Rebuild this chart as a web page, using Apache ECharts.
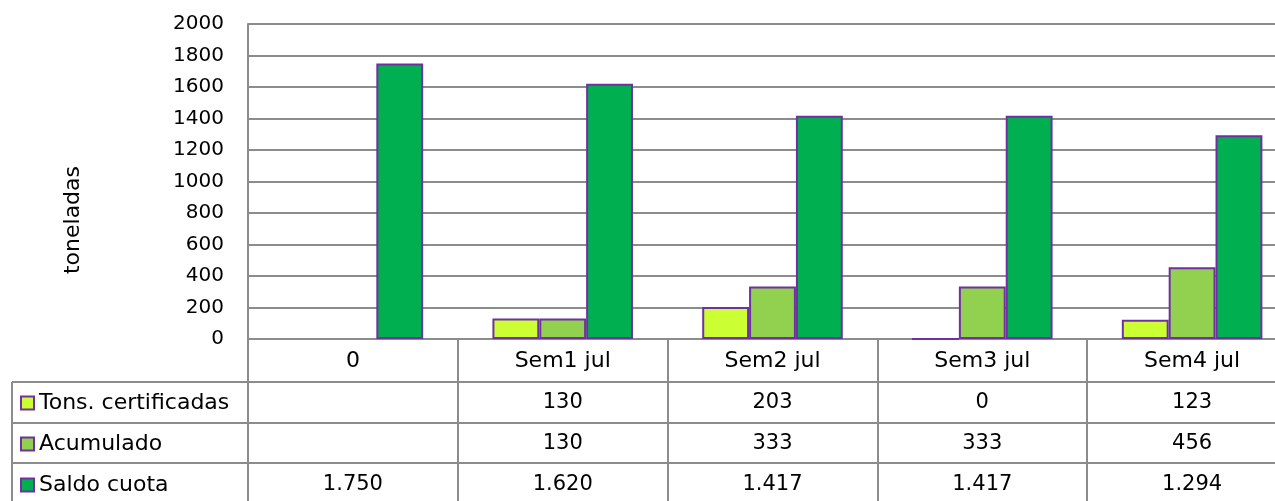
<!DOCTYPE html>
<html>
<head>
<meta charset="utf-8">
<script src="https://cdn.jsdelivr.net/npm/echarts@6/dist/echarts.min.js"></script>
<style>
  html, body { margin: 0; padding: 0; background: #fff; overflow: hidden; }
  /* the original plot runs past the right edge of the picture */
  #chart { width: 1297px; height: 501px; }
</style>
</head>
<body>
<div id="chart"></div>
<script>
// datos de la tabla / gráfico
const categories = ['0', 'Sem1 jul', 'Sem2 jul', 'Sem3 jul', 'Sem4 jul'];
const tonsCertificadas = [null, 130, 203, 0, 123];
const acumulado = [null, 130, 333, 333, 456];
const saldoCuota = [1750, 1620, 1417, 1417, 1294];
const seriesNames = ['Tons. certificadas', 'Acumulado', 'Saldo cuota'];
const yTicks = { min: 0, max: 2000, interval: 200 };

const FONT = 'DejaVu Sans';
const GRAY = '#8c8c8c';
const PURPLE = '#7030A0';
const colors = ['#CCFF33', '#92D050', '#00B050'];

// layout (px)
const gridLeft = 248, gridTop = 24, axisY = 339, gridRightEdge = 1297;
const rowLines = [382, 423, 463];
const tableLeft = 12, tableBottom = 504;

function fmt(v) {
  if (v === null || v === undefined) return ' ';
  return String(v).replace(/\B(?=(\d{3})+(?!\d))/g, '.');
}

const seriesData = [tonsCertificadas, acumulado, saldoCuota];

const graphics = rowLines.map(y => ({
  type: 'line',
  shape: { x1: tableLeft, y1: y, x2: gridRightEdge, y2: y },
  style: { stroke: GRAY, lineWidth: 2 }
}));
graphics.push({
  type: 'line',
  shape: { x1: tableLeft, y1: rowLines[0], x2: tableLeft, y2: tableBottom },
  style: { stroke: GRAY, lineWidth: 2 }
});
graphics.push({
  type: 'text',
  x: 73, y: 220,
  rotation: Math.PI / 2,
  style: {
    text: 'toneladas', fill: '#000', font: '22px "' + FONT + '"',
    align: 'center', verticalAlign: 'middle'
  }
});

const option = {
  animation: false,
  textStyle: { fontFamily: FONT },
  grid: {
    left: gridLeft, top: gridTop,
    right: 1297 - gridRightEdge, bottom: 501 - axisY,
    containLabel: false
  },
  legend: {
    orient: 'vertical',
    left: 20, top: 392,
    padding: 0,
    itemWidth: 13, itemHeight: 13,
    itemGap: 19,
    selectedMode: false,
    icon: 'rect',
    itemStyle: { borderColor: PURPLE, borderWidth: 2 },
    textStyle: { fontSize: 22, color: '#000', fontFamily: FONT },
    data: seriesNames
  },
  xAxis: {
    type: 'category',
    data: categories,
    axisLine: { show: true, lineStyle: { color: GRAY, width: 2 } },
    axisTick: {
      show: true, interval: 0, alignWithLabel: false,
      length: tableBottom - axisY,
      lineStyle: { color: GRAY, width: 2 }
    },
    axisLabel: {
      interval: 0, margin: 2,
      color: '#000', fontFamily: FONT,
      formatter: (value, idx) =>
        ['{h|' + value + '}'].concat(seriesData.map(d => '{v|' + fmt(d[idx]) + '}')).join('\n'),
      rich: {
        h: { fontSize: 22, lineHeight: 41, fontFamily: FONT, color: '#000' },
        v: { fontSize: 21, lineHeight: 41, fontFamily: FONT, color: '#000' }
      }
    }
  },
  yAxis: {
    type: 'value',
    min: yTicks.min, max: yTicks.max, interval: yTicks.interval,
    axisLine: { show: true, lineStyle: { color: GRAY, width: 2 } },
    axisTick: { show: false },
    axisLabel: { color: '#000', fontSize: 20, margin: 24, fontFamily: FONT, formatter: v => String(v) },
    splitLine: { show: true, lineStyle: { color: GRAY, width: 2 } }
  },
  graphic: graphics,
  series: seriesNames.map((name, i) => ({
    name: name,
    type: 'bar',
    data: seriesData[i],
    barGap: 0,
    barCategoryGap: '33%',
    itemStyle: { color: colors[i], borderColor: PURPLE, borderWidth: 2 }
  }))
};

const chart = echarts.init(document.getElementById('chart'));
chart.setOption(option);
</script>
</body>
</html>
